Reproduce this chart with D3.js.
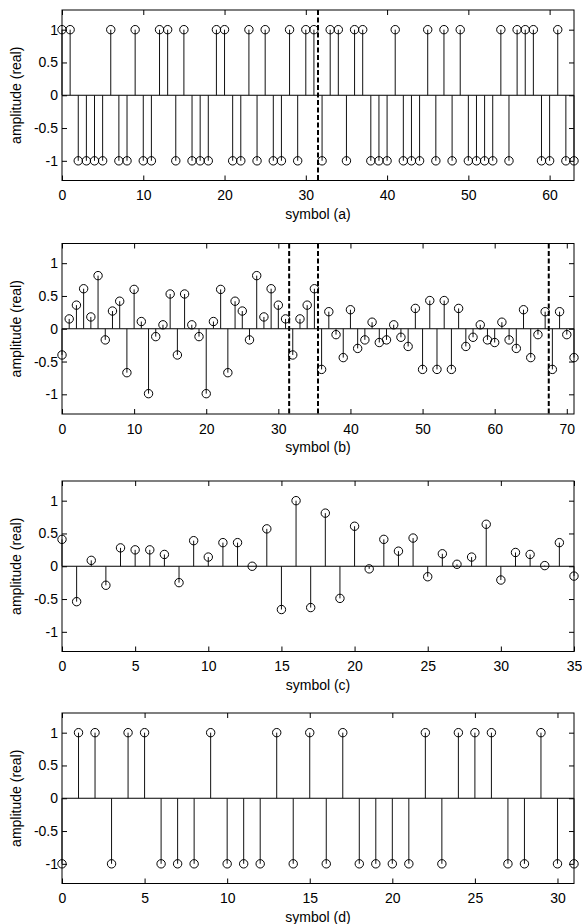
<!DOCTYPE html>
<html><head><meta charset="utf-8">
<script src="https://cdn.jsdelivr.net/npm/d3@7"></script>
<style>
body{margin:0;background:#fff;}
svg text{font-family:"Liberation Sans",Arial,Helvetica,sans-serif;fill:#000;}
</style></head>
<body><svg id="c" width="582" height="924"></svg>
<script>
// ---- data ----
const symbolsA = [1,1,-1,-1,-1,-1,1,-1,-1,1,-1,-1,1,1,-1,1,-1,-1,-1,1,1,-1,-1,1,-1,1,-1,-1,1,-1,
  1,1,-1,1,1,-1,1,1,-1,-1,-1,1,-1,-1,-1,1,-1,1,-1,1,-1,-1,-1,-1,1,-1,1,1,1,-1,-1,1,-1,-1];
const symbolsB = [-0.40,0.15,0.36,0.61,0.18,0.81,-0.17,0.27,0.42,-0.67,0.60,0.11,-0.99,-0.12,0.06,0.53,
  -0.40,0.53,0.06,-0.12,-0.99,0.11,0.60,-0.67,0.42,0.27,-0.17,0.81,0.18,0.61,0.36,0.15,
  -0.40,0.15,0.36,0.61,
  -0.62,0.26,-0.09,-0.44,0.29,-0.30,-0.17,0.10,-0.21,-0.17,0.06,-0.13,-0.27,0.31,-0.62,0.43,
  -0.62,0.43,-0.62,0.31,-0.27,-0.13,0.06,-0.17,-0.21,0.10,-0.17,-0.30,0.29,-0.44,-0.09,0.26,
  -0.62,0.26,-0.09,-0.44];
const symbolsC = [0.41,-0.54,0.09,-0.29,0.28,0.25,0.25,0.18,-0.25,0.39,0.14,0.36,0.36,0.0,0.57,-0.66,
  1.0,-0.63,0.81,-0.49,0.61,-0.04,0.41,0.23,0.43,-0.16,0.19,0.03,0.14,0.64,-0.21,0.21,0.18,0.01,0.36,-0.15];
const symbolsD = [-1,1,1,-1,1,1,-1,-1,-1,1,-1,-1,-1,1,-1,1,-1,1,-1,-1,-1,-1,1,-1,1,1,1,-1,-1,1,-1,-1];
const dashesA = [31.5];
const dashesB = [31.5,35.5,67.5];
const xTicksA = [0,10,20,30,40,50,60];
const xTicksB = [0,10,20,30,40,50,60,70];
const xTicksC = [0,5,10,15,20,25,30,35];
const xTicksD = [0,5,10,15,20,25,30];
const yTicks = [-1,-0.5,0,0.5,1];
const yLabel = "amplitude (real)";
const xLabels = ["symbol (a)","symbol (b)","symbol (c)","symbol (d)"];

// ---- layout ----
const svg = d3.select("#c");
const left = 62, right = 574, ph = 170.5;
const tops = [10, 243.5, 481, 713];
const panels = [
  {vals: symbolsA, dashes: dashesA, ticks: xTicksA, xmax: 63},
  {vals: symbolsB, dashes: dashesB, ticks: xTicksB, xmax: 71},
  {vals: symbolsC, dashes: [], ticks: xTicksC, xmax: 35},
  {vals: symbolsD, dashes: [], ticks: xTicksD, xmax: 31}
];
const FS = 14;

panels.forEach((p, i) => {
  const top = tops[i], bottom = top + ph;
  const x = d3.scaleLinear().domain([0, p.xmax]).range([left, right]);
  const y = d3.scaleLinear().domain([-1.3, 1.3]).range([bottom, top]);
  const g = svg.append("g");

  // frame
  g.append("rect").attr("x", left).attr("y", top).attr("width", right-left).attr("height", ph)
    .attr("fill", "none").attr("stroke", "#000").attr("stroke-width", 1);

  // axes
  const styleAxis = sel => {
    sel.select(".domain").remove();
    sel.selectAll("line").attr("stroke", "#000");
    sel.selectAll("text").style("font-size", FS + "px").attr("fill", "#000");
  };
  g.append("g").attr("transform", `translate(0,${bottom})`)
    .call(d3.axisBottom(x).tickValues(p.ticks).tickFormat(d3.format("d")).tickSize(-5).tickPadding(10))
    .call(styleAxis);
  g.append("g").attr("transform", `translate(0,${top})`)
    .call(d3.axisTop(x).tickValues(p.ticks).tickFormat("").tickSize(-5))
    .call(styleAxis);
  g.append("g").attr("transform", `translate(${left},0)`)
    .call(d3.axisLeft(y).tickValues(yTicks).tickFormat(d => d === 0 ? "0" : String(d)).tickSize(-5).tickPadding(4))
    .call(styleAxis);
  g.append("g").attr("transform", `translate(${right},0)`)
    .call(d3.axisRight(y).tickValues(yTicks).tickFormat("").tickSize(-5))
    .call(styleAxis);

  // zero line
  g.append("line").attr("x1", left).attr("x2", right).attr("y1", y(0)).attr("y2", y(0))
    .attr("stroke", "#000").attr("stroke-width", 1);

  // stems
  g.selectAll("line.stem").data(p.vals).enter().append("line").attr("class", "stem")
    .attr("x1", (d, k) => x(k)).attr("x2", (d, k) => x(k))
    .attr("y1", y(0)).attr("y2", d => y(d))
    .attr("stroke", "#111").attr("stroke-width", 1);
  g.selectAll("circle").data(p.vals).enter().append("circle")
    .attr("cx", (d, k) => x(k)).attr("cy", d => y(d)).attr("r", 4.2)
    .attr("fill", "none").attr("stroke", "#000").attr("stroke-width", 1);

  // dashed lines
  g.selectAll("line.dash").data(p.dashes).enter().append("line").attr("class", "dash")
    .attr("x1", d => x(d)).attr("x2", d => x(d)).attr("y1", top).attr("y2", bottom)
    .attr("stroke", "#000").attr("stroke-width", 2).attr("stroke-dasharray", "5,2.5");

  // labels
  g.append("text").attr("transform", `translate(21,${(top+bottom)/2}) rotate(-90)`)
    .attr("text-anchor", "middle").style("font-size", FS + "px").text(yLabel);
  g.append("text").attr("x", (left+right)/2).attr("y", bottom + 38)
    .attr("text-anchor", "middle").style("font-size", FS + "px").text(xLabels[i]);
});
</script></body></html>
